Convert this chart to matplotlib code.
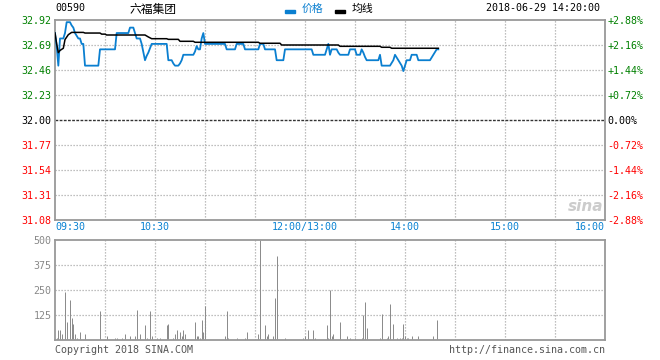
import matplotlib
matplotlib.use("Agg")
import matplotlib.pyplot as plt
from matplotlib.patches import Rectangle
from matplotlib.transforms import blended_transform_factory

# trading minutes since 09:30 (lunch break removed: 150 = 12:00/13:00)
price_min = [0, 1, 2, 3, 5, 6, 7, 9, 10, 11, 12, 14, 15, 16, 17, 18, 26, 27, 36, 37,
             44, 45, 47, 48, 49, 51, 52, 54, 55, 56, 57, 58, 67, 68, 70, 71, 72, 74,
             75, 76, 77, 83, 84, 85, 86, 87, 88, 89, 90, 102, 103, 108, 109, 113, 114,
             122, 123, 125, 126, 132, 133, 137, 138, 150, 154, 155, 162, 163, 164, 165,
             166, 169, 170, 171, 176, 177, 180, 181, 183, 184, 185, 186, 187, 194, 195,
             196, 201, 203, 204, 206, 208, 209, 210, 211, 213, 214, 217, 218, 225, 227,
             229, 230]
price_val = [32.80, 32.68, 32.50, 32.75, 32.75, 32.80, 32.90, 32.90, 32.87, 32.85, 32.80,
             32.75, 32.75, 32.70, 32.70, 32.50, 32.50, 32.65, 32.65, 32.80, 32.80, 32.85,
             32.85, 32.80, 32.75, 32.75, 32.70, 32.55, 32.59, 32.62, 32.66, 32.70, 32.70,
             32.55, 32.55, 32.52, 32.50, 32.50, 32.52, 32.55, 32.60, 32.60, 32.63, 32.68,
             32.65, 32.65, 32.75, 32.80, 32.70, 32.70, 32.65, 32.65, 32.70, 32.70, 32.65,
             32.65, 32.70, 32.70, 32.65, 32.65, 32.55, 32.55, 32.65, 32.65, 32.65, 32.60,
             32.60, 32.65, 32.70, 32.60, 32.65, 32.65, 32.62, 32.60, 32.60, 32.65, 32.65,
             32.60, 32.60, 32.65, 32.62, 32.58, 32.55, 32.55, 32.60, 32.50, 32.50, 32.55,
             32.60, 32.55, 32.50, 32.45, 32.50, 32.55, 32.55, 32.60, 32.60, 32.55, 32.55,
             32.60, 32.65, 32.65]

avg_min = [0, 1, 2, 3, 5, 6, 8, 10, 17, 18, 27, 28, 30, 31, 54, 56, 58, 67, 68, 74, 75,
           83, 84, 122, 123, 135, 136, 170, 171, 195, 196, 201, 202, 230]
avg_val = [32.80, 32.70, 32.62, 32.64, 32.66, 32.74, 32.785, 32.806, 32.806, 32.80, 32.80,
           32.79, 32.79, 32.782, 32.782, 32.764, 32.748, 32.748, 32.742, 32.742, 32.724,
           32.724, 32.715, 32.715, 32.706, 32.706, 32.69, 32.69, 32.678, 32.678, 32.669,
           32.669, 32.66, 32.66]

vol_min = [1, 2, 3, 4, 6, 7, 9, 10, 11, 12, 13, 15, 18, 27, 31, 36, 37, 40, 42, 45, 48,
           49, 51, 54, 55, 57, 58, 61, 63, 67, 68, 71, 72, 73, 75, 76, 77, 78, 84, 85, 86,
           87, 88, 89, 90, 102, 103, 104, 109, 114, 115, 122, 123, 126, 127, 128, 131,
           132, 133, 138, 149, 150, 152, 155, 156, 163, 164, 165, 166, 167, 171, 175,
           177, 180, 184, 185, 186, 187, 195, 196, 199, 200, 201, 203, 205, 207, 208,
           209, 210, 211, 212, 214, 218, 227, 229]
vol_val = [12, 50, 50, 30, 242, 92, 200, 112, 80, 30, 12, 40, 30, 145, 20, 12, 12, 12, 30,
           20, 20, 150, 30, 75, 12, 145, 20, 12, 12, 75, 80, 12, 30, 50, 40, 20, 50, 30,
           90, 20, 20, 12, 100, 40, 170, 20, 145, 12, 12, 12, 40, 30, 500, 75, 20, 30, 20,
           212, 420, 12, 12, 20, 50, 50, 12, 75, 12, 250, 20, 30, 88, 20, 12, 12, 12, 125,
           192, 62, 12, 130, 12, 20, 180, 80, 12, 12, 12, 80, 20, 12, 12, 20, 20, 20, 100]

price_ticks = [32.92, 32.69, 32.46, 32.23, 32.00, 31.77, 31.54, 31.31, 31.08]
pct_labels = ["+2.88%", "+2.16%", "+1.44%", "+0.72%", "0.00%",
              "-0.72%", "-1.44%", "-2.16%", "-2.88%"]
vol_ticks = [125, 250, 375, 500]
time_ticks = [0, 60, 150, 210, 270, 330]
time_labels = ["09:30", "10:30", "12:00/13:00", "14:00", "15:00", "16:00"]

W, H = 660, 360
MONO = "DejaVu Sans Mono"
CJK = ["Noto Sans CJK SC", "DejaVu Sans"]
FS = 7.2
BORDER = "#999999"
GRID = "#aaaaaa"
BLUE = "#0a7fd0"

fig = plt.figure(figsize=(6.6, 3.6), dpi=100)
ax = fig.add_axes([55 / W, 140 / H, 550 / W, 200 / H])
axv = fig.add_axes([55 / W, 20 / H, 550 / W, 100 / H])

for a in (ax, axv):
    a.set_xlim(0, 330)
    for s in a.spines.values():
        s.set_color(BORDER)
        s.set_linewidth(1.3)
    a.set_xticks([])
    a.tick_params(axis="y", length=0)
    for m in range(30, 330, 30):
        a.axvline(m, color=GRID, lw=0.9, ls=(0, (1, 1.4)), zorder=0)

# price panel
ax.set_ylim(31.08, 32.92)
ax.set_yticks(price_ticks)
ax.set_yticklabels([f"{p:.2f}" for p in price_ticks], family=MONO, fontsize=FS)
ax.tick_params(axis="y", pad=2.5)
for p in price_ticks[1:-1]:
    if p == 32.00:
        ax.axhline(p, color="#333333", lw=1.0, ls=(0, (2, 1)), zorder=1)
    else:
        ax.axhline(p, color=GRID, lw=0.9, ls=(0, (1, 1.4)), zorder=0)

def tick_color(i):
    if i < 4:
        return "#008000"
    if i == 4:
        return "#000000"
    return "#ff0000"

for i, lab in enumerate(ax.get_yticklabels()):
    lab.set_color(tick_color(i))

axr = ax.twinx()
axr.set_ylim(31.08, 32.92)
axr.set_yticks(price_ticks)
axr.set_yticklabels(pct_labels, family=MONO, fontsize=FS)
axr.tick_params(axis="y", length=0, pad=1.5)
for s in axr.spines.values():
    s.set_visible(False)
for i, lab in enumerate(axr.get_yticklabels()):
    lab.set_color(tick_color(i))

ax.plot(price_min, price_val, color=BLUE, lw=1.3, zorder=3)
ax.plot(avg_min, avg_val, color="black", lw=1.1, zorder=4)

tr = blended_transform_factory(ax.transData, ax.transAxes)
for t, lab in zip(time_ticks, time_labels):
    ha = "left" if t == 0 else ("right" if t == 330 else "center")
    ax.text(t, -0.036, lab, transform=tr, ha=ha, va="center",
            family=MONO, fontsize=FS, color="#0a82d2")

# volume panel
axv.set_ylim(0, 500)
axv.set_yticks(vol_ticks)
axv.set_yticklabels([str(v) for v in vol_ticks], family=MONO, fontsize=FS, color="#888888")
axv.tick_params(axis="y", pad=2.5)
for v in vol_ticks[:-1]:
    axv.axhline(v, color=GRID, lw=0.9, ls=(0, (1, 1.4)), zorder=0)
axv.vlines(vol_min, 0, vol_val, color="#8c8c8c", lw=0.72, zorder=2)

# header and footer texts
def ft(x, y, s, **kw):
    fig.text(x / W, 1 - y / H, s, **kw)

ft(55, 8, "00590", family=MONO, fontsize=FS, va="center", ha="left")
ft(153, 9, "六福集团", family=CJK, fontsize=8.5, va="center", ha="center")
fig.patches.append(Rectangle((285 / W, 1 - 12.5 / H), 10 / W, 3 / H,
                             transform=fig.transFigure, color=BLUE))
ft(302, 9, "价格", family=CJK, fontsize=7.8, va="center", ha="left", color=BLUE)
fig.patches.append(Rectangle((335 / W, 1 - 12.5 / H), 10 / W, 3 / H,
                             transform=fig.transFigure, color="black"))
ft(352, 9, "均线", family=CJK, fontsize=7.8, va="center", ha="left", color="black")
ft(600, 8, "2018-06-29 14:20:00", family=MONO, fontsize=FS, va="center", ha="right")
ft(586, 207, "sina", fontsize=11, style="italic", weight="bold", color="#cccccc",
   va="center", ha="center")
ft(55, 350, "Copyright 2018 SINA.COM", family=MONO, fontsize=FS, va="center",
   ha="left", color="#555555")
ft(605, 350, "http://finance.sina.com.cn", family=MONO, fontsize=FS, va="center",
   ha="right", color="#555555")

fig.savefig("out.png", dpi=100)
